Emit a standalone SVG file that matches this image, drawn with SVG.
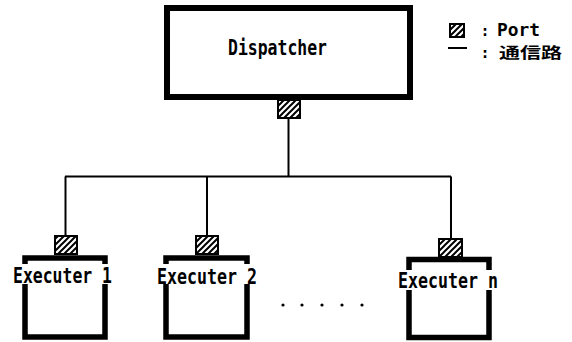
<svg xmlns="http://www.w3.org/2000/svg" width="572" height="342" viewBox="0 0 572 342">
  <defs>
    <pattern id="hatch" patternUnits="userSpaceOnUse" width="6" height="6">
      <rect width="6" height="6" fill="#fff"/>
      <path d="M0,6 L6,0 M-1.5,1.5 L1.5,-1.5 M4.5,7.5 L7.5,4.5" stroke="#000" stroke-width="2"/>
    </pattern>
    <style>
      .box { fill: #fff; stroke: #000; stroke-width: 6; }
      .ebox { fill: #fff; stroke: #000; stroke-width: 5.5; }
      .port { fill: url(#hatch); stroke: #000; stroke-width: 2; }
      .line { fill: none; stroke: #000; stroke-width: 2; }
      .lbl { font-family: "DejaVu Sans Mono", "Liberation Mono", monospace; font-weight: bold; font-size: 22px; fill: #000; }
      .leg { font-family: "DejaVu Sans Mono", "Liberation Mono", monospace; font-weight: bold; font-size: 17px; fill: #000; }
      .col { font-family: "DejaVu Sans Mono", "Liberation Mono", monospace; font-weight: bold; font-size: 15px; fill: #000; }
      .cjk { font-family: "Noto Sans CJK JP", "Noto Sans CJK SC", sans-serif; font-weight: bold; font-size: 15px; fill: #000; }
      .mask { fill: #fff; stroke: none; }
    </style>
  </defs>
  <rect width="572" height="342" fill="#fff"/>

  <g id="connectors">
    <line class="line" x1="288.5" y1="118" x2="288.5" y2="176.5"/>
    <line class="line" x1="65" y1="176.5" x2="451" y2="176.5"/>
    <line class="line" x1="65.5" y1="176.5" x2="65.5" y2="236"/>
    <line class="line" x1="207" y1="176.5" x2="207" y2="236"/>
    <line class="line" x1="451" y1="176.5" x2="451" y2="239"/>
  </g>

  <g id="dispatcher">
    <rect class="box" x="167" y="8" width="243" height="89"/>
    <text class="lbl" x="228" y="55" textLength="99" lengthAdjust="spacingAndGlyphs">Dispatcher</text>
    <rect class="port" x="278" y="100" width="22" height="18"/>
  </g>

  <g id="executer1">
    <rect class="port" x="55" y="236" width="22" height="18"/>
    <rect class="ebox" x="25" y="258" width="80" height="79"/>
    <rect class="mask" x="12" y="264" width="102" height="20"/>
    <text class="lbl" x="13" y="283" textLength="99" lengthAdjust="spacingAndGlyphs">Executer 1</text>
  </g>

  <g id="executer2">
    <rect class="port" x="196" y="236" width="22" height="18"/>
    <rect class="ebox" x="166" y="258" width="81" height="79"/>
    <rect class="mask" x="156" y="264" width="102" height="20"/>
    <text class="lbl" x="157" y="284" textLength="100" lengthAdjust="spacingAndGlyphs">Executer 2</text>
  </g>

  <g id="executern">
    <rect class="port" x="439" y="239" width="23" height="18"/>
    <rect class="ebox" x="409" y="259.5" width="80" height="78"/>
    <rect class="mask" x="397" y="270" width="102" height="20"/>
    <text class="lbl" x="398" y="288" textLength="100" lengthAdjust="spacingAndGlyphs">Executer n</text>
  </g>

  <g id="ellipsis">
    <circle cx="283" cy="305" r="1.6"/>
    <circle cx="302" cy="305" r="1.6"/>
    <circle cx="322" cy="305" r="1.6"/>
    <circle cx="342" cy="305" r="1.6"/>
    <circle cx="362" cy="305" r="1.6"/>
  </g>

  <g id="legend">
    <rect class="port" x="450" y="24" width="14" height="13"/>
    <text class="col" x="485" y="36" text-anchor="middle">:</text>
    <text class="leg" x="497" y="36" textLength="43" lengthAdjust="spacingAndGlyphs">Port</text>
    <line class="line" x1="448" y1="48" x2="467" y2="48"/>
    <text class="col" x="485" y="58" text-anchor="middle">:</text>
    <text class="cjk" x="499" y="58" textLength="63" lengthAdjust="spacingAndGlyphs">通信路</text>
  </g>
</svg>
